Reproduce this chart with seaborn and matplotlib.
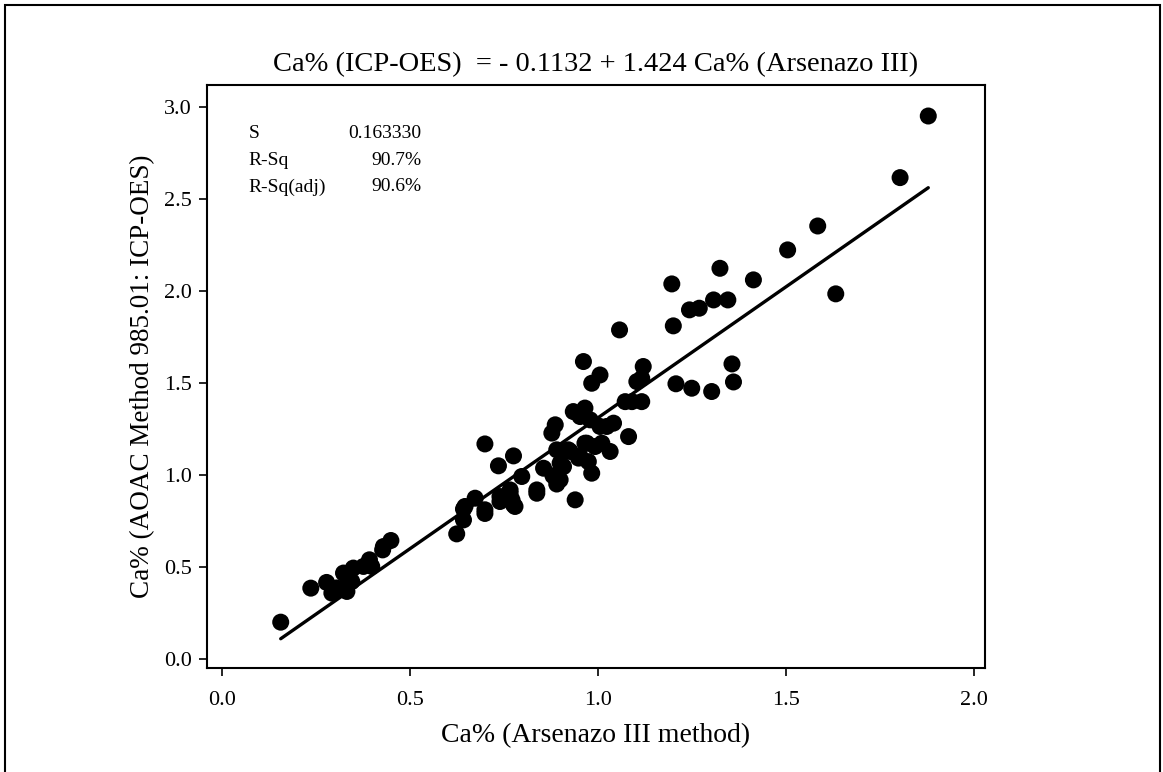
import numpy as np
import pandas as pd
import matplotlib
matplotlib.use('Agg')
import matplotlib.pyplot as plt
import matplotlib.patches as patches
import seaborn as sns

arsenazo = [
    0.156, 0.236, 0.278, 0.292, 0.323, 0.332, 0.349, 0.345, 0.376, 0.392,
    0.398, 0.427, 0.429, 0.449, 0.305, 0.335,
    0.624, 0.642, 0.642, 0.673, 0.699, 0.699, 0.735, 0.775, 0.699, 0.739,
    0.766, 0.775, 0.797, 0.837, 0.837, 0.855, 0.771, 0.779, 0.739, 0.646,
    0.766,
    0.886, 0.877, 0.890, 0.926, 0.952, 0.970, 0.992, 0.899, 0.983, 0.939,
    0.899, 0.961, 1.005, 0.983, 1.120, 1.103, 1.116, 1.072, 1.090, 1.116,
    0.934, 0.965, 0.952, 0.979, 1.005, 1.041, 1.023, 1.081, 0.921, 0.965,
    1.010, 1.032, 0.948, 0.974, 0.908, 0.880, 0.890,
    1.057, 1.196, 1.200, 1.207, 1.249, 1.302, 1.243, 1.269, 1.307, 1.345,
    1.324, 1.413, 1.356, 1.360, 1.504, 1.584, 1.632, 1.803, 1.878,
]
icp_oes = [
    0.199, 0.384, 0.415, 0.357, 0.466, 0.366, 0.493, 0.420, 0.502, 0.538,
    0.502, 0.592, 0.610, 0.643, 0.385, 0.440,
    0.679, 0.755, 0.814, 0.873, 0.810, 0.790, 1.049, 1.103, 1.168, 0.855,
    0.900, 0.837, 0.991, 0.918, 0.900, 1.036, 0.864, 0.828, 0.882, 0.828,
    0.918,
    1.272, 1.227, 1.136, 1.127, 1.100, 1.172, 1.154, 1.064, 1.009, 0.864,
    0.973, 1.616, 1.543, 1.498, 1.589, 1.507, 1.525, 1.398, 1.398, 1.398,
    1.344, 1.363, 1.317, 1.299, 1.263, 1.281, 1.263, 1.208, 1.136, 1.172,
    1.172, 1.127, 1.091, 1.072, 1.045, 0.995, 0.950,
    1.788, 2.038, 1.810, 1.495, 1.471, 1.453, 1.897, 1.906, 1.951, 1.951,
    2.123, 2.060, 1.603, 1.505, 2.223, 2.353, 1.984, 2.616, 2.951,
]

# fitted regression reported in the title
intercept = -0.1132
slope = 1.424
stat_names = ['S', 'R-Sq', 'R-Sq(adj)']
stat_values = ['0.163330', '90.7%', '90.6%']

x_ticks = [0.0, 0.5, 1.0, 1.5, 2.0]
y_ticks = [0.0, 0.5, 1.0, 1.5, 2.0, 2.5, 3.0]

df = pd.DataFrame({'x': arsenazo, 'y': icp_oes})
fit_x = np.array([min(arsenazo), max(arsenazo)])
fit_df = pd.DataFrame({'x': fit_x, 'y': intercept + slope * fit_x})

sns.set_style('white')
plt.rcParams['font.family'] = ['Liberation Serif', 'DejaVu Serif']
plt.rcParams['text.color'] = 'black'
plt.rcParams['axes.labelcolor'] = 'black'

fig = plt.figure(figsize=(11.63, 7.72), dpi=100)
ax = fig.add_axes([0.178, 0.135, 0.669, 0.755])

sns.scatterplot(data=df, x='x', y='y', ax=ax, color='black', s=150,
                edgecolor='none', linewidth=0, zorder=3)
sns.lineplot(data=fit_df, x='x', y='y', ax=ax, color='black', linewidth=2.4,
             zorder=2)

ax.set_xlim(-0.04, 2.029)
ax.set_ylim(-0.049, 3.12)
ax.set_xticks(x_ticks)
ax.set_xticklabels([f'{t:.1f}' for t in x_ticks])
ax.set_yticks(y_ticks)
ax.set_yticklabels([f'{t:.1f}' for t in y_ticks])
ax.tick_params(axis='both', direction='out', length=6, width=1.2,
               labelsize=16, color='black', labelcolor='black',
               bottom=True, left=True)
ax.tick_params(axis='x', pad=11)
ax.tick_params(axis='y', pad=5)

for sp in ax.spines.values():
    sp.set_visible(True)
    sp.set_color('black')
    sp.set_linewidth(1.5)

ax.set_xlabel('Ca% (Arsenazo III method)', fontsize=20, labelpad=9)
ax.set_ylabel('Ca% (AOAC Method 985.01: ICP-OES)', fontsize=19.5, labelpad=6)
ax.set_title('Ca% (ICP-OES)  = - 0.1132 + 1.424 Ca% (Arsenazo III)',
             fontsize=20.5, pad=10)

# regression summary box text
row_y = [0.916, 0.871, 0.825]
for name, val, yy in zip(stat_names, stat_values, row_y):
    ax.text(0.053, yy, name, transform=ax.transAxes, fontsize=14,
            ha='left', va='center')
    ax.text(0.276, yy, val, transform=ax.transAxes, fontsize=14,
            ha='right', va='center')

# outer frame around the whole graph
fig.patches.append(patches.Rectangle((5 / 1163, -0.02), 1155 / 1163, 1.0 - 5 / 772 + 0.02,
                                     transform=fig.transFigure, fill=False,
                                     edgecolor='black', linewidth=1.5))

fig.savefig('out.png', dpi=100)
plt.close(fig)
